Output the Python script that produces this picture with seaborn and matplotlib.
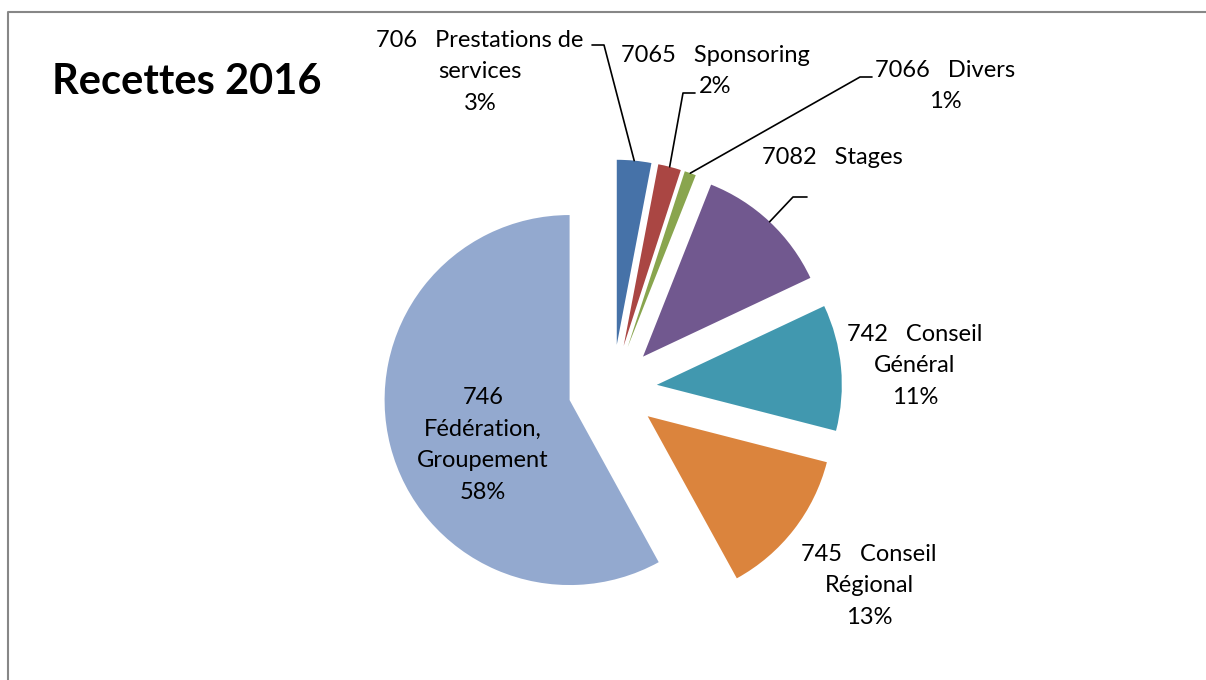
import numpy as np
import matplotlib
matplotlib.use("Agg")
import matplotlib.pyplot as plt
import seaborn as sns

# Recettes 2016 - parts par compte
labels = ["706   Prestations de\nservices\n3%",
          "7065   Sponsoring\n2%",
          "7066   Divers\n1%",
          "7082   Stages",
          "742   Conseil\nGénéral\n11%",
          "745   Conseil\nRégional\n13%",
          "746\nFédération,\nGroupement\n58%"]
shares = [3, 2, 1, 12, 11, 13, 58]
colors = ["#4672A8", "#AA4643", "#89A54E", "#71588F", "#4198AF", "#DB843D", "#93A9CF"]

sns.set_theme(style="white")
plt.rcParams["font.family"] = ["Lato", "DejaVu Sans"]

W, H = 1206, 680
fig = plt.figure(figsize=(W / 100, H / 100), dpi=100)
ax = fig.add_axes([0, 0, 1, 1])

cx, cy, R = 612.6, H - 389, 185
# matplotlib explode is in data units here (pixels)
wedges, _ = ax.pie(shares, colors=sns.color_palette(colors), startangle=90,
                   counterclock=False, explode=[0.24 * R] * len(shares),
                   center=(cx, cy), radius=R, frame=True,
                   wedgeprops=dict(linewidth=0))
ax.set_xlim(0, W)
ax.set_ylim(0, H)
ax.set_aspect("equal")
ax.axis("off")

# label positions (pixel centres, y from top)
pos = [(480, 72), (715, 71), (945, 86), (832, 157), (915, 366), (869, 586), (483, 445)]
for lab, (x, y) in zip(labels, pos):
    ax.text(x, H - y, lab, ha="center", va="center", fontsize=17,
            linespacing=1.62, color="black")

# leader lines: from text to the outer middle of the wedge
leaders = {0: [(592, 45), (604, 45)], 1: [(695, 93), (683, 93)],
           2: [(872, 77), (860, 77)], 3: [(807, 197), (793, 197)]}
for i, pts in leaders.items():
    w = wedges[i]
    th = np.deg2rad((w.theta1 + w.theta2) / 2)
    ex = w.center[0] + w.r * np.cos(th)
    ey = w.center[1] + w.r * np.sin(th)
    xs = [p[0] for p in pts] + [ex]
    ys = [H - p[1] for p in pts] + [ey]
    ax.plot(xs, ys, color="black", lw=1.2)

ax.text(52, H - 82, "Recettes 2016", ha="left", va="center",
        fontsize=30, fontweight="bold", color="black")

# chart border
ax.plot([8, 8, W], [0, H - 12, H - 12], color="#878787", lw=1.5, clip_on=False)

fig.savefig("out.png", dpi=100, facecolor="white")
